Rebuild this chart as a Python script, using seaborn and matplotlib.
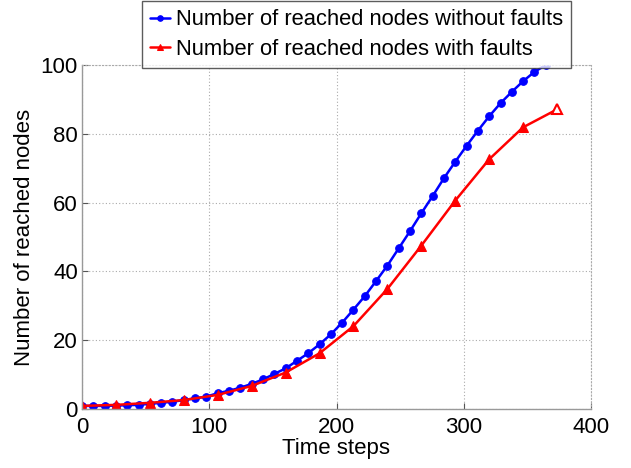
import numpy as np
import pandas as pd
import matplotlib
matplotlib.use("Agg")
import matplotlib.pyplot as plt
import seaborn as sns

# Data
blue_step = 80 / 9
red_step = 80 / 3
blue_values = [0.9, 0.9, 0.9, 1.0, 1.1, 1.2, 1.5, 1.8, 2.1, 2.6, 3.1, 3.6, 4.6, 5.3,
               6.2, 7.3, 8.6, 10.2, 11.8, 14.0, 16.2, 18.8, 21.7, 25.1, 28.9, 32.8,
               37.2, 41.7, 46.7, 51.7, 56.9, 61.9, 67.1, 71.9, 76.5, 80.9, 85.1, 88.9,
               92.2, 95.3, 98.0, 100.0]
red_values = [0.9, 1.2, 1.8, 2.6, 4.1, 6.7, 10.6, 16.2, 24.1, 34.9, 47.5, 60.6, 72.6,
              81.9, 87.1]
blue_x = [i * blue_step for i in range(len(blue_values))]
red_x = [i * red_step for i in range(len(red_values))]
label_blue = "Number of reached nodes without faults"
label_red = "Number of reached nodes with faults"
x_ticks = [0, 100, 200, 300, 400]
y_ticks = [0, 20, 40, 60, 80, 100]

sns.set_style("white")
plt.rcParams['font.family'] = ['Liberation Sans', 'DejaVu Sans']
plt.rcParams['text.color'] = 'black'
plt.rcParams['axes.labelcolor'] = 'black'
plt.rcParams['xtick.labelcolor'] = 'black'
plt.rcParams['ytick.labelcolor'] = 'black'

fig = plt.figure(figsize=(6.31, 4.68), dpi=100)
ax = fig.add_axes([82 / 631, 1 - 409 / 468, (591 - 82) / 631, (409 - 65) / 468])

df_b = pd.DataFrame({"x": blue_x, "y": blue_values})
df_r = pd.DataFrame({"x": red_x, "y": red_values})
sns.lineplot(data=df_b, x="x", y="y", ax=ax, color="#0000ff", linewidth=1.8,
             marker="o", markersize=5.5, markeredgecolor="#0000ff", label=label_blue)
sns.lineplot(data=df_r, x="x", y="y", ax=ax, color="#ff0000", linewidth=1.8,
             marker="^", markersize=7, markeredgecolor="#ff0000", label=label_red,
             markevery=list(range(len(red_values) - 1)))
ax.plot(red_x[-1:], red_values[-1:], linestyle="none", marker="^", markersize=7,
        markerfacecolor="white", markeredgecolor="#ff0000", markeredgewidth=1.5)

ax.set_xlim(0, 400)
ax.set_ylim(0, 100)
ax.set_xticks(x_ticks)
ax.set_yticks(y_ticks)
ax.tick_params(axis="both", labelsize=16, direction="in", length=4, color="#555555",
               labelcolor="black", bottom=True, left=True)
ax.tick_params(axis="x", pad=6)
ax.tick_params(axis="y", pad=3)
ax.set_xlabel("Time steps", fontsize=16, labelpad=0, color="black")
ax.set_ylabel("Number of reached nodes", fontsize=16, labelpad=4, color="black")

ax.grid(True, linestyle=(0, (1, 2)), color="#aaaaaa", linewidth=0.8)
for side in ["top", "right"]:
    ax.spines[side].set_linestyle((0, (1, 2)))
    ax.spines[side].set_color("#aaaaaa")
    ax.spines[side].set_linewidth(0.8)
for side in ["left", "bottom"]:
    ax.spines[side].set_color("#999999")
    ax.spines[side].set_linewidth(1.0)

ax.get_legend().remove()
handles, labels = ax.get_legend_handles_labels()
leg = fig.legend(handles[:2], labels[:2], loc="upper right",
                 bbox_to_anchor=(571 / 631, 1 - 1 / 468), fontsize=15.8,
                 frameon=True, fancybox=False, edgecolor="#333333",
                 handlelength=0.9, handletextpad=0.25, borderpad=0.38,
                 labelspacing=0.38, borderaxespad=0)
leg.get_frame().set_linewidth(1.0)
for t in leg.get_texts():
    t.set_color("black")
for h in leg.legend_handles:
    h.set_markersize(4)

fig.savefig("out.png", dpi=100)
